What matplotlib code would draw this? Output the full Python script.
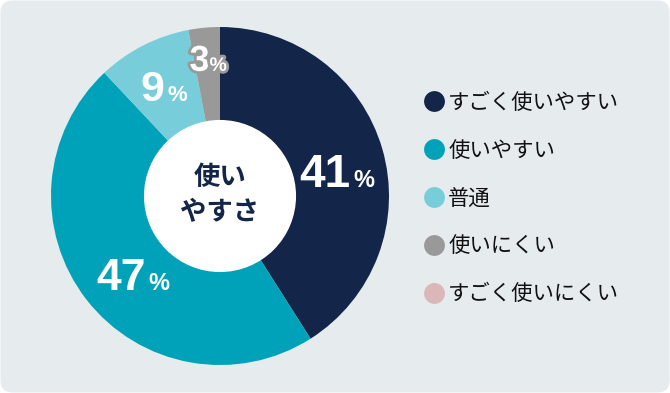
import matplotlib.pyplot as plt
import matplotlib.patheffects as pe
from matplotlib.patches import FancyBboxPatch, Circle
from matplotlib.lines import Line2D
from matplotlib.offsetbox import TextArea, HPacker, AnnotationBbox
import numpy as np

categories = ['すごく使いやすい', '使いやすい', '普通', '使いにくい', 'すごく使いにくい']
values = [41, 47, 9, 3, 0]
colors = ['#13264a', '#00a2b9', '#77cdd9', '#999999', '#dcb7b9']
center_label = '使い\nやすさ'

jp = ['Noto Sans CJK JP', 'DejaVu Sans']
num_font = ['Liberation Sans', 'DejaVu Sans']

W, H = 670, 393
fig = plt.figure(figsize=(W / 100, H / 100), dpi=100)
fig.patch.set_facecolor('white')

# rounded background panel
bg = fig.add_axes([0, 0, 1, 1])
bg.set_xlim(0, W)
bg.set_ylim(0, H)
bg.axis('off')
bg.add_patch(FancyBboxPatch((0.5, 0.5), W - 1, H - 1,
                            boxstyle='round,pad=0,rounding_size=12',
                            fc='#e6ebee', ec='none'))

# donut
cx, cy, r = 220, 196, 169
ax = fig.add_axes([(cx - r) / W, (H - cy - r) / H, 2 * r / W, 2 * r / H])
wedges, _ = ax.pie(values, colors=colors, startangle=90, counterclock=False,
                   radius=1, wedgeprops=dict(linewidth=0))
ax.set_xlim(-1, 1)
ax.set_ylim(-1, 1)
ax.add_patch(Circle((0, 0), 0.45, fc='white', ec='none', zorder=5))
ax.text(0, 0.005, center_label, ha='center', va='center', fontsize=19,
        fontweight='bold', family=jp, color='#13264a', linespacing=1.4,
        zorder=6)

# percentage labels: radius and angle tweak from wedge middle
label_r = [0.70, 0.71, 0.71, 0.80]
label_da = [-6, 5.5, 0.8, -0.4]
num_size = [33, 32, 31, 26]
pct_size = [17, 17, 16, 14]
for i, v in enumerate(values[:4]):
    w = wedges[i]
    mid = np.deg2rad((w.theta1 + w.theta2) / 2 + label_da[i])
    x, y = label_r[i] * np.cos(mid), label_r[i] * np.sin(mid)
    eff = [pe.withStroke(linewidth=4, foreground='#999999')] if i == 3 else []
    num = TextArea(str(v), textprops=dict(fontsize=num_size[i], fontweight='bold',
                                          family=num_font, color='white',
                                          path_effects=eff))
    pct = TextArea('%', textprops=dict(fontsize=pct_size[i], fontweight='bold',
                                       family=num_font, color='white',
                                       path_effects=eff))
    box = HPacker(children=[num, pct], align='baseline', pad=0,
                  sep=0 if i == 3 else 2)
    ab = AnnotationBbox(box, (x, y), frameon=False, box_alignment=(0.5, 0.5),
                        zorder=7)
    ax.add_artist(ab)

# legend
handles = [Line2D([], [], marker='o', linestyle='none', markersize=15,
                  markerfacecolor=c, markeredgecolor='none') for c in colors]
fig.legend(handles, categories, loc='center left', bbox_to_anchor=(410 / W, 0.5 - 2 / H),
           frameon=False, prop=dict(family=jp, size=15.4), labelcolor='#111111',
           handlelength=1.2, handletextpad=0.08, labelspacing=1.21, borderpad=0)

fig.savefig('out.png', dpi=100)
